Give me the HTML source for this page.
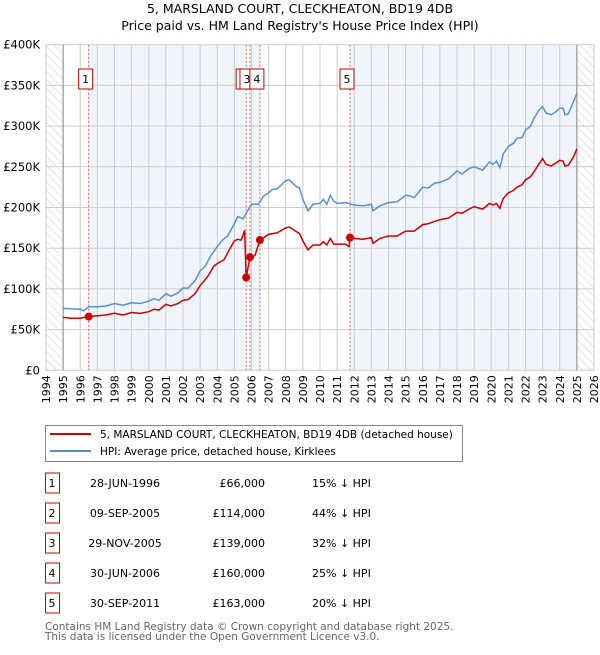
<!DOCTYPE html>
<html><head><meta charset="utf-8"><style>
body{margin:0;background:#fff;font-family:"Liberation Sans","DejaVu Sans",sans-serif;}
svg text{font-family:"DejaVu Sans","Liberation Sans",sans-serif;}
</style></head><body>
<svg id="c" width="600" height="650" xmlns="http://www.w3.org/2000/svg">
<defs><pattern id="hatch" width="6" height="6" patternUnits="userSpaceOnUse" patternTransform="rotate(-45)"><line x1="0" y1="0" x2="0" y2="6" stroke="#ccc" stroke-width="1"/></pattern></defs>
<text x="300" y="13" text-anchor="middle" font-size="12.5">5, MARSLAND COURT, CLECKHEATON, BD19 4DB</text>
<text x="300" y="30" text-anchor="middle" font-size="12.5">Price paid vs. HM Land Registry's House Price Index (HPI)</text>
<g id="plot"></g>
<g>
<rect x="45.5" y="425.5" width="417" height="36" fill="#fff" stroke="#888"/>
<line x1="50" y1="434" x2="91" y2="434" stroke="#cc0000" stroke-width="2"/>
<text x="100" y="438" font-size="10.5">5, MARSLAND COURT, CLECKHEATON, BD19 4DB (detached house)</text>
<line x1="50" y1="451" x2="91" y2="451" stroke="#5b8fd4" stroke-width="2"/>
<text x="100" y="455" font-size="10.5">HPI: Average price, detached house, Kirklees</text>
</g>
<g id="table" font-size="11"></g>
<text x="45" y="630" font-size="10.5" fill="#666">Contains HM Land Registry data © Crown copyright and database right 2025.</text>
<text x="45" y="640" font-size="10.5" fill="#666">This data is licensed under the Open Government Licence v3.0.</text>
</svg>
<script>
const hpiYears=[1995,1996,1996.2,1996.5,1997,1997.5,1998,1998.5,1999,1999.5,2000,2000.3,2000.6,2001,2001.3,2001.7,2002,2002.3,2002.7,2003,2003.3,2003.6,2004,2004.3,2004.6,2005,2005.2,2005.5,2005.8,2006,2006.4,2006.7,2007,2007.2,2007.5,2008,2008.2,2008.6,2008.8,2009,2009.3,2009.6,2010,2010.2,2010.4,2010.6,2010.8,2011,2011.5,2012,2012.5,2013,2013.1,2013.5,2014,2014.5,2015,2015.3,2015.5,2016,2016.3,2016.7,2017,2017.5,2018,2018.3,2018.7,2019,2019.5,2019.9,2020.1,2020.3,2020.5,2020.7,2021,2021.3,2021.5,2021.8,2022,2022.3,2022.5,2022.8,2023,2023.2,2023.5,2023.8,2024,2024.2,2024.3,2024.5,2024.8,2025];
const hpiValues=[76,75,73,78,78,79,82,80,83,82,85,88,86,94,91,95,101,101,110,122,128,140,152,160,165,180,189,186,197,204,204,214,218,222,223,233,234,226,224,210,196,204,205,210,204,215,208,205,206,203,202,204,196,202,206,207,215,214,212,225,224,230,231,235,245,241,248,250,246,256,253,257,249,266,275,279,285,286,295,300,310,320,324,316,314,318,322,322,314,315,330,340];
const pricedYears=[1995,1995.5,1996,1996.49,1997,1997.5,1998,1998.5,1999,1999.5,2000,2000.3,2000.6,2001,2001.3,2001.7,2002,2002.3,2002.7,2003,2003.2,2003.5,2003.8,2004,2004.4,2004.7,2005,2005.2,2005.4,2005.6,2005.69,2005.91,2006.2,2006.49,2007,2007.5,2008,2008.2,2008.5,2008.8,2009,2009.3,2009.6,2010,2010.2,2010.4,2010.6,2010.8,2011,2011.5,2011.7,2011.75,2012,2012.5,2013,2013.1,2013.5,2014,2014.5,2015,2015.5,2016,2016.3,2016.7,2017,2017.5,2018,2018.3,2018.7,2019,2019.5,2019.9,2020.1,2020.3,2020.5,2020.7,2021,2021.3,2021.5,2021.8,2022,2022.3,2022.5,2022.8,2023,2023.2,2023.5,2023.8,2024,2024.2,2024.3,2024.5,2024.8,2025];
const pricedValues=[65,64,64,66,67,68,70,68,71,70,72,75,74,81,79,82,86,87,94,104,109,117,128,131,136,148,159,161,160,172,114,139,141,160,167,169,175,176,172,168,159,148,154,154,158,154,162,155,155,155,152,163,162,161,163,156,162,165,165,171,171,179,180,183,185,187,194,193,198,201,198,205,203,205,199,211,218,221,225,228,234,238,244,254,260,253,251,255,258,257,251,252,262,272];
const saleYears=[1996.49,2005.69,2005.91,2006.49,2011.75];
const saleValues=[66,114,139,160,163];
const saleLabels=["1","2","3","4","5"];
const saleDates=["28-JUN-1996","09-SEP-2005","29-NOV-2005","30-JUN-2006","30-SEP-2011"];
const salePrices=["£66,000","£114,000","£139,000","£160,000","£163,000"];
const saleDiffs=["15% ↓ HPI","44% ↓ HPI","32% ↓ HPI","25% ↓ HPI","20% ↓ HPI"];
const yTicks=[0,50,100,150,200,250,300,350,400];
const yTickLabels=["£0","£50K","£100K","£150K","£200K","£250K","£300K","£350K","£400K"];
const xTicks=[1994,1995,1996,1997,1998,1999,2000,2001,2002,2003,2004,2005,2006,2007,2008,2009,2010,2011,2012,2013,2014,2015,2016,2017,2018,2019,2020,2021,2022,2023,2024,2025,2026];

const NS="http://www.w3.org/2000/svg";
const L=46,R=594,T=44.7,B=370.3;
const xs=y=>L+(y-1994)/32*(R-L);
const ys=v=>B-v/400*(B-T);
function mk(p,tag,attrs){const e=document.createElementNS(NS,tag);for(const k in attrs)e.setAttribute(k,attrs[k]);p.appendChild(e);return e;}
const g=document.getElementById('plot');
let h1=mk(g,'rect',{x:L,y:T,width:xs(1995)-L,height:B-T,fill:'url(#hatch)'});


let h2=mk(g,'rect',{x:xs(2025),y:T,width:R-xs(2025),height:B-T,fill:'url(#hatch)'});


const bandEdges=saleYears.concat([2025]);
for(let i=0;i<bandEdges.length-1;i+=2){
  const b=mk(g,'rect',{x:xs(bandEdges[i]),y:T,width:xs(bandEdges[i+1])-xs(bandEdges[i]),height:B-T,fill:'#f0f4fc'});
  
  
}
xTicks.forEach(t=>{const l=mk(g,'line',{x1:xs(t),x2:xs(t),y1:T,y2:B,stroke:'#ccc','stroke-width':1});


const tx=mk(g,'text',{x:0,y:0,transform:`translate(${xs(t)+4},${B+5}) rotate(-90)`,'text-anchor':'end','font-size':'11'});tx.textContent=t;

});
yTicks.forEach((t,i)=>{const l=mk(g,'line',{x1:L,x2:R,y1:ys(t),y2:ys(t),stroke:'#ccc','stroke-width':1});


const tx=mk(g,'text',{x:L-6,y:ys(t)+4,'text-anchor':'end','font-size':'11.5'});tx.textContent=yTickLabels[i];

});
[1995,2025].forEach(t=>{const l=mk(g,'line',{x1:xs(t),x2:xs(t),y1:T,y2:B,stroke:'#888','stroke-width':1});

});
saleYears.forEach(s=>{const l=mk(g,'line',{x1:xs(s),x2:xs(s),y1:T,y2:B,stroke:'#f06060','stroke-width':1,'stroke-dasharray':'2,2'});

});
const hp=mk(g,'polyline',{points:hpiYears.map((y,i)=>xs(y)+','+ys(hpiValues[i])).join(' '),fill:'none',stroke:'#5b8fd4','stroke-width':1.5});


const pp=mk(g,'polyline',{points:pricedYears.map((y,i)=>xs(y)+','+ys(pricedValues[i])).join(' '),fill:'none',stroke:'#cc0000','stroke-width':1.5});


saleYears.forEach((s,i)=>{const c=mk(g,'circle',{cx:xs(s),cy:ys(saleValues[i]),r:4,fill:'#cc0000'});


const bx=mk(g,'rect',{x:xs(s)-10,y:69,width:14,height:20,fill:'#fff',stroke:'#cc0000'});


const t=mk(g,'text',{x:xs(s)-3,y:83,'text-anchor':'middle','font-size':'11'});t.textContent=saleLabels[i];

});
const tb=document.getElementById('table');
saleLabels.forEach((lab,i)=>{const y=483+i*30;
const bx=mk(tb,'rect',{x:45.5,y:y-10,width:14,height:20,fill:'#fff',stroke:'#cc0000'});


const cells=[[52,'middle',lab,'table-row-number'],[125,'middle',saleDates[i],'table-date'],[265,'end',salePrices[i],'table-price'],[312,'start',saleDiffs[i],'table-hpi-diff']];
cells.forEach(c=>{const t=mk(tb,'text',{x:c[0],y:y+4,'text-anchor':c[1]});t.textContent=c[2];

});});
</script>
</body></html>
